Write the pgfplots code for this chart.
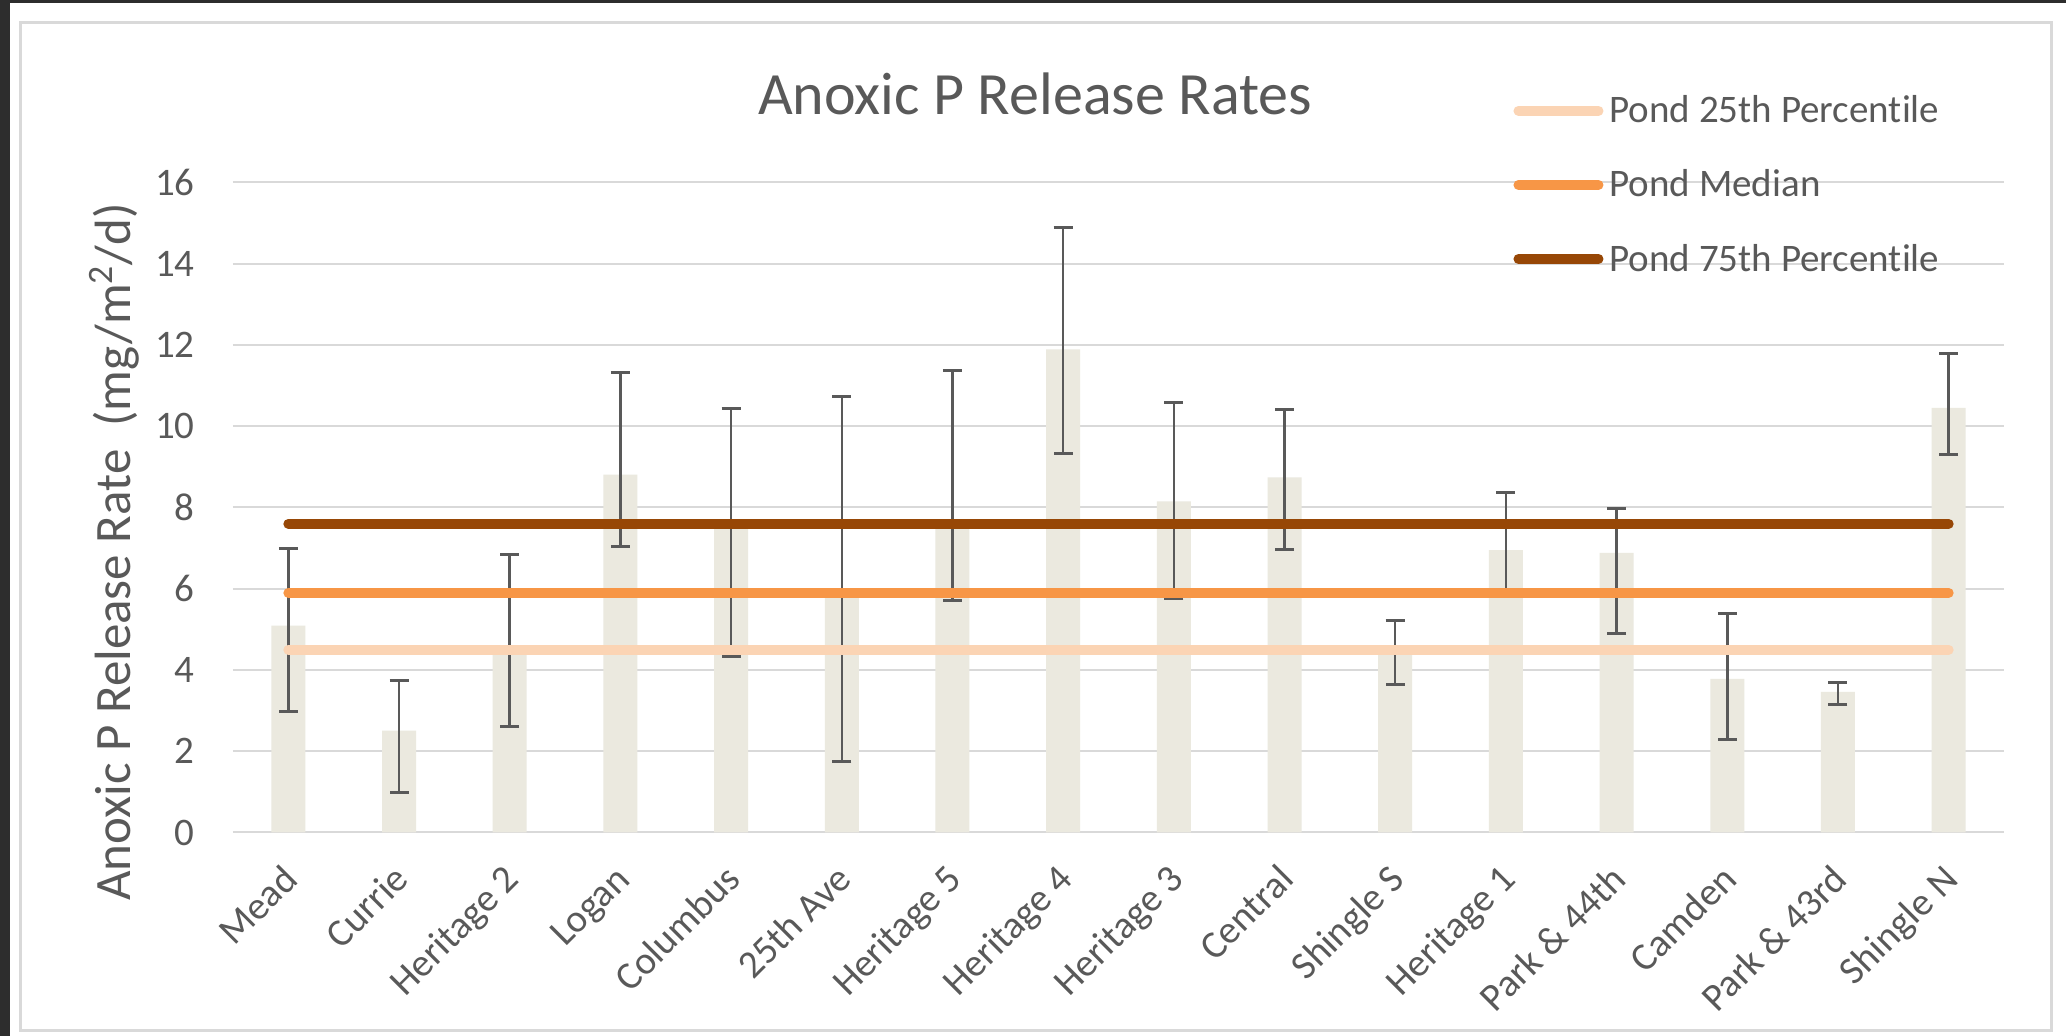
\documentclass[border=0pt]{standalone}
\usepackage{fontspec}
\setmainfont{Carlito}[Ligatures={NoCommon}]
\usepackage{pgfplots}
\usepackage{pgfplotstable}
\pgfplotsset{compat=1.18}
\definecolor{txt}{HTML}{595959}
\definecolor{gridc}{HTML}{D9D9D9}
\definecolor{barc}{HTML}{EBE9DF}
\definecolor{pLow}{HTML}{FBD4B4}
\definecolor{pMed}{HTML}{F79646}
\definecolor{pHigh}{HTML}{974706}
\definecolor{framec}{HTML}{2D2D2D}

\pgfplotstableread{
x y ep em
0 5.09 1.91 2.10
1 2.51 1.24 1.52
2 4.60 2.25 1.99
3 8.81 2.52 1.76
4 7.50 2.94 3.17
5 5.90 4.84 4.16
6 7.50 3.87 1.80
7 11.89 2.99 2.55
8 8.15 2.44 2.39
9 8.74 1.67 1.77
10 4.45 0.76 0.81
11 6.95 1.42 1.00
12 6.88 1.09 1.97
13 3.78 1.60 1.50
14 3.46 0.23 0.30
15 10.45 1.34 1.15
}\data

\begin{document}
\begin{tikzpicture}
\fill[framec] (-116.5pt,-101.75pt) rectangle (916.5pt,416.25pt);
\fill[white] (-111.5pt,-101.75pt) rectangle (916.5pt,414.5pt);
\draw[gridc, line width=1.5pt] (-106pt,-99.25pt) rectangle (909pt,404.75pt);
\begin{axis}[
  at={(0,0)}, anchor=south west,
  width=885.5pt, height=325pt, scale only axis,
  xmin=-0.5, xmax=15.5, ymin=0, ymax=16,
  ytick={0,2,...,16},
  xtick={0,...,15},
  xticklabels={Mead,Currie,Heritage 2,Logan,Columbus,25th Ave,Heritage 5,Heritage 4,Heritage 3,Central,Shingle S,Heritage 1,Park \& 44th,Camden,Park \& 43rd,Shingle N},
  ymajorgrids, xmajorgrids=false,
  y grid style={color=gridc, line width=1pt},
  axis line style={draw=none},
  major tick length=0pt,
  /pgf/number format/assume math mode=true,
  tick label style={font=\fontsize{19.5}{23}\selectfont, text=txt},
  yticklabel style={anchor=east, inner sep=0pt, xshift=-19pt},
  xticklabel style={xshift=0.3pt, yshift=-19pt, rotate=45, anchor=north east, inner sep=0pt, text height=0.75em, text depth=0.25em},
  title={Anoxic P Release Rates},
  title style={at={(axis description cs:0.4529,1)}, anchor=base, yshift=28pt, font=\fontsize{30}{36}\selectfont, text=txt},
  ylabel={Anoxic P Release Rate\ \ (mg/m\textsuperscript{2}/d)},
  ylabel style={at={(axis description cs:-0.0576,0.4317)}, anchor=base, font=\fontsize{25.5}{30}\selectfont, text=txt},
  legend style={at={(axis description cs:0.7228,1.134)}, anchor=north west, draw=none, fill=none, inner sep=0pt, row sep=22pt, column sep=3pt,
    nodes={inner sep=0pt, font=\fontsize{19.5}{23}\selectfont, text=txt}},
  legend cell align=left,
  legend image code/.code={\draw[#1, line width=5pt, line cap=round] (2.5pt,0pt) -- (42.5pt,0pt);},
]
\addplot[ybar, bar width=17pt, fill=barc, draw=none, forget plot,
  error bars/.cd, y dir=both, y explicit,
  error bar style={txt, line width=1.25pt},
  error mark options={txt, rotate=90, line width=1.5pt, mark size=4.75pt}]
  table[x=x, y=y, y error plus=ep, y error minus=em] {\data};
\addplot[pLow, line width=5pt, line cap=round, mark=none] coordinates {(0,4.5) (15,4.5)};
\addlegendentry{Pond 25th Percentile}
\addplot[pMed, line width=5pt, line cap=round, mark=none] coordinates {(0,5.9) (15,5.9)};
\addlegendentry{Pond Median}
\addplot[pHigh, line width=5pt, line cap=round, mark=none] coordinates {(0,7.6) (15,7.6)};
\addlegendentry{Pond 75th Percentile}
\end{axis}
\pgfresetboundingbox
\useasboundingbox (-116.5pt,-101.75pt) rectangle (916.5pt,416.25pt);
\end{tikzpicture}
\end{document}
